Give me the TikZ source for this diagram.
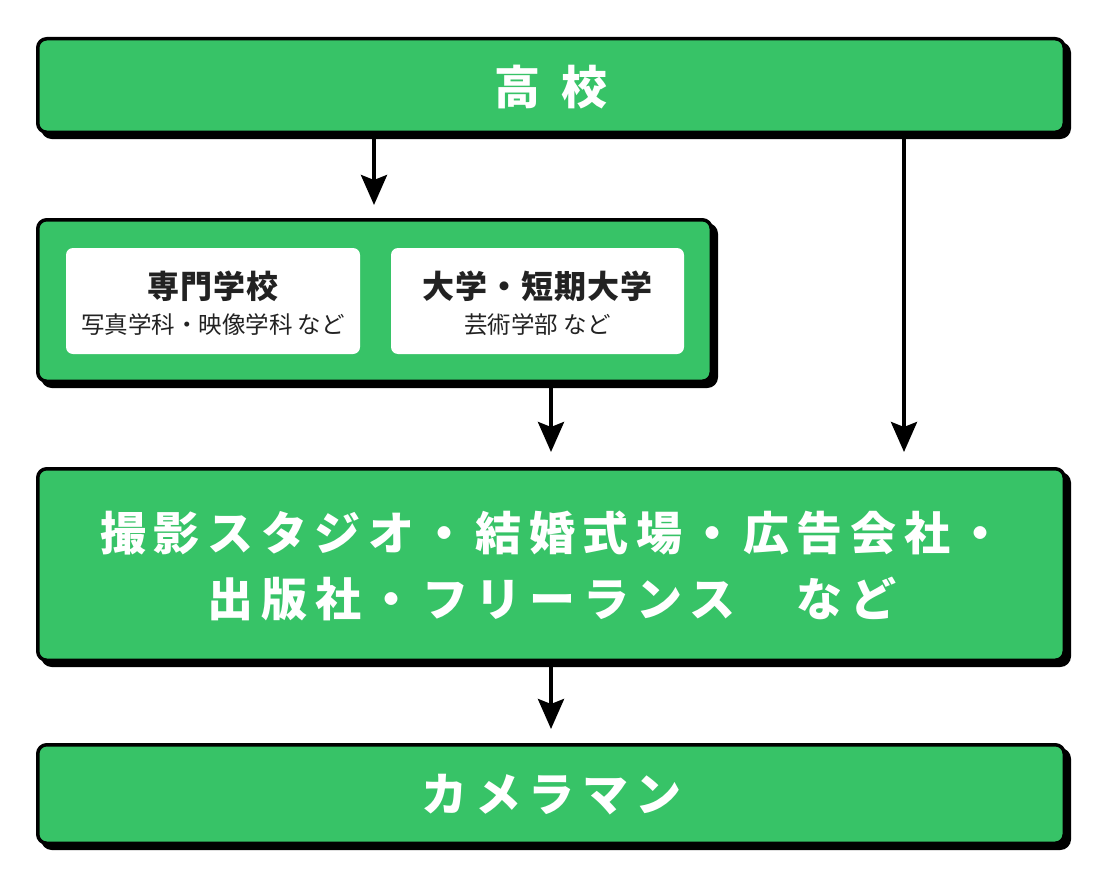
\documentclass[tikz,border=0pt]{standalone}
\usepackage{fontspec}
\setmainfont{Noto Sans CJK JP}
\newfontfamily\jpwide{Noto Sans CJK JP}[LetterSpace=16.5]
\newfontfamily\jpsub{Noto Sans CJK JP}[LetterSpace=3]
\usetikzlibrary{shadows,arrows.meta}
\definecolor{grn}{RGB}{55,195,103}
\definecolor{ink}{RGB}{34,34,34}
\newcommand{\trk}{\hspace{-7.6pt}}
\begin{document}
\begin{tikzpicture}[x=1pt,y=-1pt,
  gbox/.style={draw=black,line width=3.5pt,fill=grn,rounded corners=9pt,inner sep=0pt,
    drop shadow={shadow xshift=5pt,shadow yshift=-5pt,opacity=1,fill=black,draw=black,line width=3.5pt}},
  wbox/.style={fill=white,rounded corners=7pt,inner sep=0pt,minimum width=294pt,minimum height=106pt},
  bigtext/.style={text=white,font=\jpwide\bfseries\fontsize{46}{66}\selectfont,align=center},
  subtitle/.style={text=ink,font=\jpsub\bfseries\fontsize{32}{38}\selectfont},
  subnote/.style={text=ink,font=\fontsize{23.5}{28}\selectfont},
  arr/.style={line width=4pt,-{Stealth[width=26pt,length=30pt,inset=5pt]}}]
\useasboundingbox (0,0) rectangle (1102,880);
\node[gbox,minimum width=1026.5pt,minimum height=93.5pt] (top) at (551,85.5) {};
\node[bigtext] (toptext) at (547,87) {高\hspace{3pt} 校\trk};
\node[gbox,minimum width=673.5pt,minimum height=161.5pt] (mid) at (374.5,300.5) {};
\node[wbox] (w1) at (213,301) {};
\node[wbox,minimum width=293pt] (w2) at (537.5,301) {};
\node[subtitle] (w1t) at (213,286) {専門学校};
\node[subnote] (w1s) at (213,325) {写真学科・映像学科 など};
\node[subtitle] (w2t) at (537.5,286) {大学・短期大学};
\node[subnote] (w2s) at (537.5,325) {芸術学部 など};
\node[gbox,minimum width=1026.5pt,minimum height=191.5pt] (big) at (551,564.5) {};
\node[bigtext] (bigt) at (552,566) {撮影スタジオ・結婚式場・広告会社・\trk\\出版社・フリーランス　など\trk};
\node[gbox,minimum width=1026.5pt,minimum height=98.5pt] (bot) at (551,794) {};
\node[bigtext] (bott) at (548,795) {カメラマン\trk};
\coordinate (c1) at (374,0);
\coordinate (c2) at (904,0);
\draw[arr] (top.south -| c1) -- ([yshift=13pt]mid.north -| c1);
\draw[arr] (top.south -| c2) -- ([yshift=15pt]big.north -| c2);
\draw[arr] (mid.south -| big.north) -- ([yshift=15pt]big.north);
\draw[arr] (big.south) -- ([yshift=14pt]bot.north);
\end{tikzpicture}
\end{document}
